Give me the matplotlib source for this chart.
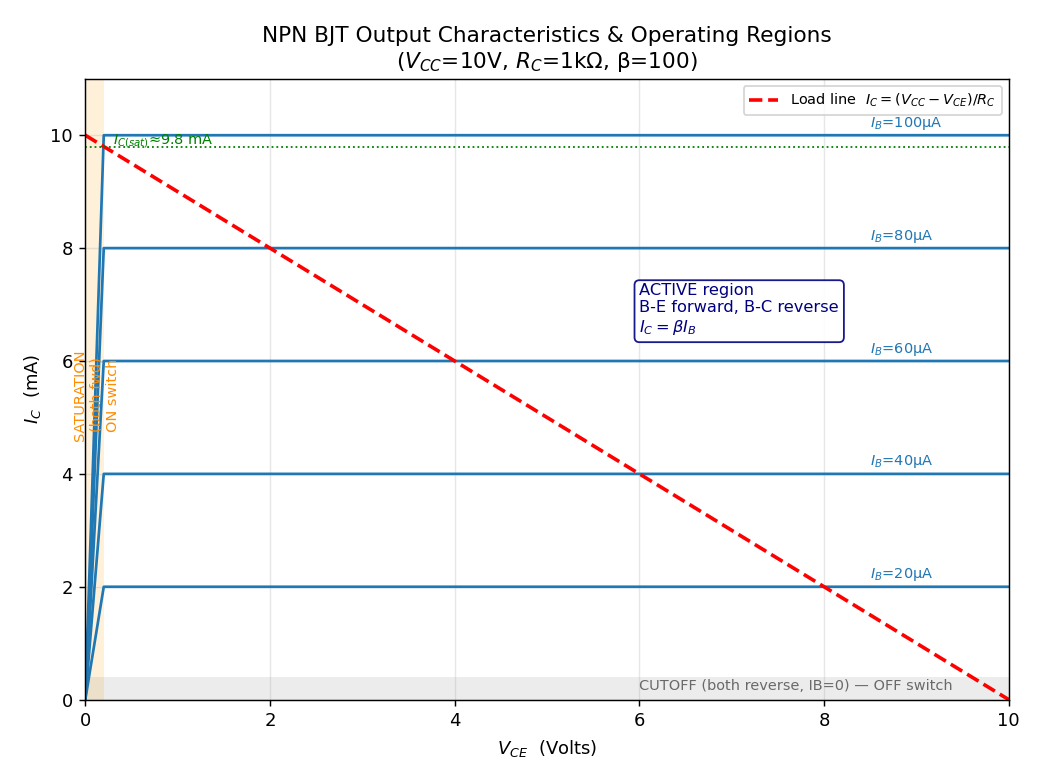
import numpy as np
import matplotlib
matplotlib.use("Agg")
import matplotlib.pyplot as plt

# circuit values
Vcc = 10.0
Rc_k = 1.0
beta = 100
Vce_sat = 0.2

# base currents (uA) and the collector current (mA) in active region
ib_uA = [20, 40, 60, 80, 100]
ic_mA = [2, 4, 6, 8, 10]
ib_labels = ["$I_B$=20µA", "$I_B$=40µA", "$I_B$=60µA", "$I_B$=80µA", "$I_B$=100µA"]

ic_sat = 9.8

fig, ax = plt.subplots(figsize=(8, 6), dpi=130)
fig.subplots_adjust(left=0.082, right=0.970, top=0.899, bottom=0.103)

# regions
ax.axvspan(0, Vce_sat, color="orange", alpha=0.15, lw=0)
ax.axhspan(0, 0.4, color="gray", alpha=0.15, lw=0)

# output curves
for ic, lab in zip(ic_mA, ib_labels):
    ax.plot([0, Vce_sat, Vcc], [0, ic, ic], color="#1f77b4", lw=1.5)
    ax.text(8.5, ic + 0.15, lab, color="#1f77b4", fontsize=8)

# load line
vce = np.array([0, Vcc])
ax.plot(vce, (Vcc - vce) / Rc_k, "r--", lw=2,
        label=r"Load line  $I_C=(V_{CC}-V_{CE})/R_C$")

ax.axhline(ic_sat, color="green", ls=":", lw=1)
ax.text(0.3, ic_sat + 0.05, r"$I_{C(sat)}$≈9.8 mA", color="green", fontsize=8)

ax.text(0.12, 5.4, "SATURATION\n(both fwd)\nON switch", rotation=90,
        ha="center", va="center", color="darkorange", fontsize=8)
ax.text(6.0, 6.9, "ACTIVE region\nB-E forward, B-C reverse\n$I_C=\\beta I_B$",
        color="navy", fontsize=9, va="center",
        bbox=dict(boxstyle="round", fc="white", ec="navy", alpha=0.9))
ax.text(6.0, 0.25, "CUTOFF (both reverse, IB=0) — OFF switch",
        color="dimgray", fontsize=8, va="center")

ax.set_xlim(0, 10)
ax.set_ylim(0, 11)
ax.set_xlabel("$V_{CE}$  (Volts)")
ax.set_ylabel("$I_C$  (mA)")
ax.set_title("NPN BJT Output Characteristics & Operating Regions\n($V_{CC}$=10V, $R_C$=1kΩ, β=100)",
             fontsize=12)
ax.grid(alpha=0.3)
ax.legend(loc="upper right", fontsize=8)

fig.savefig("out.png")
